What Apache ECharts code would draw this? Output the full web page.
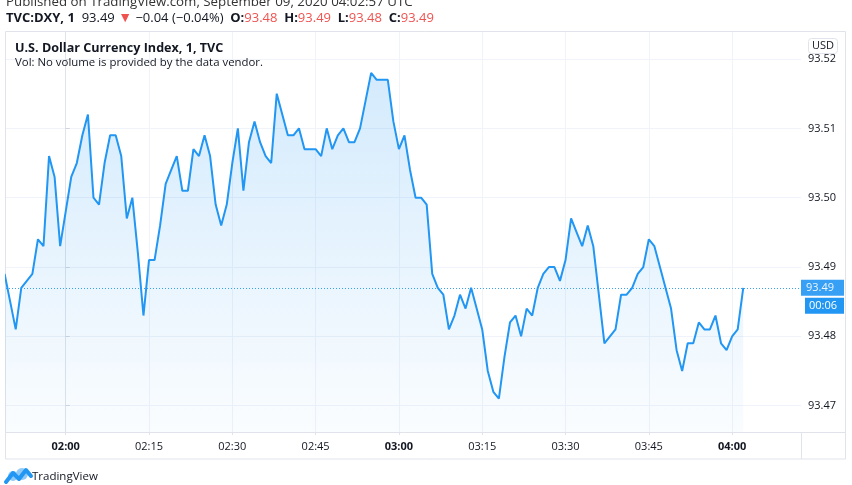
<!DOCTYPE html>
<html><head><meta charset="utf-8">
<script src="https://cdn.jsdelivr.net/npm/echarts@6/dist/echarts.min.js"></script>
<style>html,body{margin:0;padding:0;background:#fff;overflow:hidden}#c{width:852px;height:485px}</style>
</head><body><div id="c"></div>
<script>
// ---- data (1-minute closes, TVC:DXY) ----
const times = [
 '01:49','01:50','01:51','01:52','01:53','01:54','01:55','01:56','01:57','01:58','01:59',
 '02:00','02:01','02:02','02:03','02:04','02:05','02:06','02:07','02:08','02:09','02:10','02:11','02:12','02:13','02:14',
 '02:15','02:16','02:17','02:18','02:19','02:20','02:21','02:22','02:23','02:24','02:25','02:26','02:27','02:28','02:29',
 '02:30','02:31','02:32','02:33','02:34','02:35','02:36','02:37','02:38','02:39','02:40','02:41','02:42','02:43','02:44',
 '02:45','02:46','02:47','02:48','02:49','02:50','02:51','02:52','02:53','02:54','02:55','02:56','02:57','02:58','02:59',
 '03:00','03:01','03:02','03:03','03:04','03:05','03:06','03:07','03:08','03:09','03:10','03:11','03:12','03:13','03:14',
 '03:15','03:16','03:17','03:18','03:19','03:20','03:21','03:22','03:23','03:24','03:25','03:26','03:27','03:28','03:29',
 '03:30','03:31','03:32','03:33','03:34','03:35','03:36','03:37','03:38','03:39','03:40','03:41','03:42','03:43','03:44',
 '03:45','03:46','03:47','03:48','03:49','03:50','03:51','03:52','03:53','03:54','03:55','03:56','03:57','03:58','03:59',
 '04:00','04:01','04:02'
];
const values = [
 93.489,93.485,93.481,93.487,93.488,93.489,93.494,93.493,93.506,93.503,93.493,
 93.498,93.503,93.505,93.509,93.512,93.500,93.499,93.505,93.509,93.509,93.506,93.497,93.500,93.492,93.483,
 93.491,93.491,93.496,93.502,93.504,93.506,93.501,93.501,93.507,93.506,93.509,93.506,93.499,93.496,93.499,
 93.505,93.510,93.501,93.508,93.511,93.508,93.506,93.505,93.515,93.512,93.509,93.509,93.510,93.507,93.507,
 93.507,93.506,93.510,93.507,93.509,93.510,93.508,93.508,93.510,93.514,93.518,93.517,93.517,93.517,93.511,
 93.507,93.509,93.504,93.500,93.500,93.499,93.489,93.487,93.486,93.481,93.483,93.486,93.484,93.487,93.484,
 93.481,93.475,93.472,93.471,93.477,93.482,93.483,93.480,93.484,93.483,93.487,93.489,93.490,93.490,93.488,
 93.491,93.497,93.495,93.493,93.496,93.493,93.486,93.479,93.480,93.481,93.486,93.486,93.487,93.489,93.490,
 93.494,93.493,93.490,93.487,93.484,93.478,93.475,93.479,93.479,93.482,93.481,93.481,93.483,93.479,93.478,
 93.480,93.481,93.487
];
const timeTicks = ['02:00','02:15','02:30','02:45','03:00','03:15','03:30','03:45','04:00'];
const priceTicks = [93.47, 93.48, 93.49, 93.50, 93.51, 93.52];
const countdown = '00:06';

// ---- helpers ----
const BASE = 120; // minutes of 02:00
function toMin(t){ const p = t.split(':').map(Number); return p[0]*60 + p[1] - BASE; }
function toTime(m){ const t = Math.round(m) + BASE; const h = Math.floor(t/60), mm = t%60; return String(h).padStart(2,'0')+':'+String(mm).padStart(2,'0'); }

const FONT = '"Open Sans", "Noto Sans", sans-serif';
const TXT = '#131722';
const BLUE = '#2196f3';
const RED = '#ef5350';
const GRID = '#f0f3fa';
const BORDER = '#e0e3eb';

const seriesData = times.map((t, i) => [toMin(t), values[i]]);
const last = values[values.length - 1];

const chart = echarts.init(document.getElementById('c'), null, {renderer: 'canvas'});
chart.setOption({
  animation: false,
  backgroundColor: '#ffffff',
  grid: {left: 6, right: 51, top: 32, bottom: 53, containLabel: false},
  xAxis: {
    type: 'value', min: -10.75, max: 132.4,
    axisLine: {show: true, lineStyle: {color: BORDER, width: 1}},
    axisTick: {show: true, length: 3, lineStyle: {color: BORDER}, customValues: timeTicks.map(toMin)},
    splitLine: {show: true, lineStyle: {color: GRID, width: 1}},
    axisLabel: {
      customValues: timeTicks.map(toMin), margin: 9,
      fontFamily: FONT, fontSize: 11, color: TXT,
      formatter: v => { const s = toTime(v); return s.endsWith(':00') ? '{b|' + s + '}' : s; },
      rich: {b: {fontFamily: FONT, fontSize: 11, fontWeight: 'bold', color: TXT}}
    }
  },
  yAxis: {
    type: 'value', position: 'right', min: 93.4662, max: 93.5239, scale: true,
    axisLine: {show: true, lineStyle: {color: BORDER, width: 1}},
    axisTick: {show: true, length: 4, lineStyle: {color: '#d1d4dc'}, customValues: priceTicks},
    splitLine: {show: true, lineStyle: {color: GRID, width: 1}},
    axisLabel: {customValues: priceTicks, margin: 7, fontFamily: FONT, fontSize: 11, color: TXT,
      formatter: v => v.toFixed(2)}
  },
  series: [{
    type: 'line', data: seriesData, showSymbol: false, symbol: 'none', smooth: false,
    lineStyle: {color: BLUE, width: 2},
    itemStyle: {color: BLUE},
    areaStyle: {origin: 'start', color: new echarts.graphic.LinearGradient(0, 0, 0, 1, [
      {offset: 0, color: 'rgba(33,150,243,0.28)'},
      {offset: 1, color: 'rgba(33,150,243,0.03)'}
    ])},
    markLine: {
      symbol: 'none', silent: true, animation: false, precision: 4,
      data: [
        {yAxis: last, lineStyle: {color: BLUE, type: [1, 2], width: 1, opacity: 0.9},
          label: {show: true, position: 'end', distance: 0, formatter: '{a|' + last.toFixed(2) + '}',
            rich: {a: {backgroundColor: BLUE, color: '#fff', fontFamily: FONT, fontSize: 11,
              padding: [3, 6, 2, 5], width: 32}}}},
        {yAxis: last, lineStyle: {color: 'rgba(0,0,0,0)', width: 0},
          label: {show: true, position: 'end', distance: 0, padding: [36, 0, 0, 4], formatter: '{b|' + countdown + '}',
            rich: {b: {backgroundColor: BLUE, color: '#fff', fontFamily: FONT, fontSize: 11,
              padding: [3, 5, 2, 4], width: 30}}}}
      ]
    }
  }],
  graphic: [
    {type: 'rect', silent: true, z: 1, shape: {x: 5.5, y: 31.5, width: 840, height: 427.5},
      style: {fill: 'none', stroke: BORDER, lineWidth: 1}},
    {type: 'line', silent: true, z: 1, shape: {x1: 801, y1: 432.5, x2: 845.5, y2: 432.5}, style: {stroke: BORDER, lineWidth: 1}},
    {type: 'line', silent: true, z: 1, shape: {x1: 801.5, y1: 432, x2: 801.5, y2: 459}, style: {stroke: BORDER, lineWidth: 1}},
    {type: 'text', silent: true, z: 10, style: {x: 6, y: 2, text: 'Published on TradingView.com, September 09, 2020 04:02:57 UTC',
      font: '13.3px ' + FONT, fill: '#333333', verticalAlign: 'middle'}},
    {type: 'text', silent: true, z: 10, style: {x: 6, y: 18,
      text: '{b|TVC:DXY, 1}  {n|93.49} {t|▼} {n|−0.04 (−0.04%)}  {b|O:}{r|93.48}  {b|H:}{r|93.49}  {b|L:}{r|93.48}  {b|C:}{r|93.49}',
      font: '13px ' + FONT, fill: TXT, verticalAlign: 'middle',
      rich: {
        b: {fontFamily: FONT, fontSize: 13, fontWeight: 'bold', fill: TXT},
        n: {fontFamily: FONT, fontSize: 13, fill: TXT},
        r: {fontFamily: FONT, fontSize: 13, fill: RED},
        t: {fontFamily: FONT, fontSize: 14, fill: RED}
      }}},
    {type: 'text', silent: true, z: 10, style: {x: 15, y: 48, text: 'U.S. Dollar Currency Index, 1, TVC',
      font: 'bold 12.6px ' + FONT, fill: TXT, verticalAlign: 'middle'}},
    {type: 'text', silent: true, z: 10, style: {x: 15, y: 63, text: 'Vol: No volume is provided by the data vendor.',
      font: '11.4px ' + FONT, fill: TXT, verticalAlign: 'middle'}},
    {type: 'rect', silent: true, z: 20, shape: {x: 808.5, y: 38.5, width: 29, height: 15, r: 3},
      style: {fill: '#ffffff', stroke: BORDER, lineWidth: 1}},
    {type: 'text', silent: true, z: 21, style: {x: 823, y: 46, text: 'USD', font: '11px ' + FONT, fill: TXT,
      align: 'center', verticalAlign: 'middle'}},
    {type: 'polyline', silent: true, z: 10, shape: {points: [[6, 482], [13, 473], [19, 479], [26, 470], [31, 476]]},
      style: {stroke: BLUE, lineWidth: 4, fill: 'none', lineJoin: 'round', lineCap: 'round'}},
    {type: 'circle', silent: true, z: 9, shape: {cx: 13, cy: 476, r: 5}, style: {fill: '#90caf9'}},
    {type: 'circle', silent: true, z: 9, shape: {cx: 22, cy: 474, r: 6}, style: {fill: '#90caf9'}},
    {type: 'text', silent: true, z: 10, style: {x: 32, y: 477, text: 'TradingView', font: '11.5px ' + FONT, fill: TXT,
      verticalAlign: 'middle'}}
  ]
});
</script>
</body></html>
